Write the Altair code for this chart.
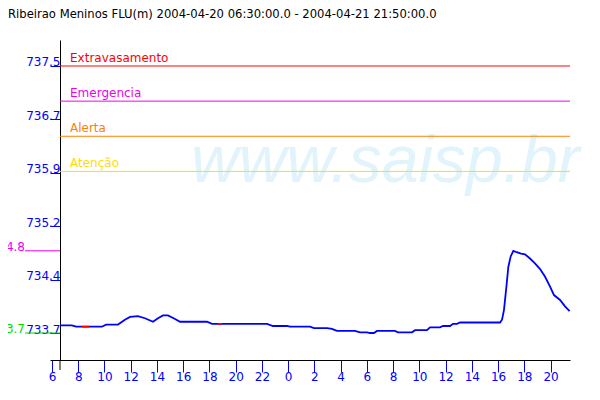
import altair as alt
import pandas as pd

# ---- data ----
hours = [6.61, 7.52, 7.83, 8.74, 9.81, 10.12, 11.03, 11.56, 11.95, 12.55, 13.09, 13.70,
         14.08, 14.46, 14.84, 15.38, 15.76, 17.81, 18.20, 22.39, 22.84, 23.91, 24.14,
         25.66, 25.97, 26.96, 27.34, 27.72, 29.09, 29.48, 30.01, 30.24, 30.54, 30.77,
         32.14, 32.37, 33.44, 33.67, 34.58, 34.81, 35.57, 35.80, 36.34, 36.56, 36.87,
         37.10, 40.15, 40.30, 40.45, 40.66, 40.78, 40.96, 41.16, 41.42, 41.75, 42.05,
         42.43, 42.81, 43.20, 43.58, 43.96, 44.26, 44.72, 45.10, 45.45]
levels = [733.81, 733.81, 733.79, 733.79, 733.79, 733.82, 733.82, 733.89, 733.93, 733.94,
          733.91, 733.86, 733.91, 733.95, 733.95, 733.90, 733.86, 733.86, 733.83, 733.83,
          733.80, 733.80, 733.79, 733.79, 733.77, 733.77, 733.76, 733.73, 733.73, 733.71,
          733.71, 733.70, 733.70, 733.73, 733.73, 733.71, 733.71, 733.74, 733.74, 733.78,
          733.78, 733.80, 733.80, 733.83, 733.83, 733.85, 733.85, 733.89, 734.03, 734.41,
          734.64, 734.79, 734.87, 734.85, 734.83, 734.82, 734.76, 734.69, 734.61, 734.50,
          734.36, 734.24, 734.17, 734.08, 734.01]

red_hours = [8.29, 8.83, 18.65, 18.96]
red_levels = [733.79, 733.79, 733.83, 733.83]
red_seg = [1, 1, 2, 2]

thr_names = ["Extravasamento", "Emergencia", "Alerta", "Atenção"]
thr_values = [737.5, 737.0, 736.5, 736.0]
thr_colors = ["#ff0000", "#ee00ee", "#ff8000", "#ffdd00"]

ref_values = [734.87, 733.7]
ref_labels = ["734.8", "733.7"]
ref_colors = ["#ee00ee", "#00dd00"]

y_ticks = [733.7, 734.46, 735.22, 735.98, 736.74, 737.5]
x_ticks = [6, 8, 10, 12, 14, 16, 18, 20, 22, 24, 26, 28, 30, 32, 34, 36, 38, 40, 42, 44]

title_text = "Ribeirao Meninos FLU(m) 2004-04-20 06:30:00.0 - 2004-04-21 21:50:00.0"
watermark = "www.saisp.br"

# ---- tables ----
df = pd.DataFrame({"h": hours, "v": levels})
dred = pd.DataFrame({"h": red_hours, "v": red_levels, "seg": red_seg})
dthr = pd.DataFrame({"name": thr_names, "v": thr_values, "c": thr_colors})
dref = pd.DataFrame({"lab": ref_labels, "v": ref_values, "c": ref_colors})

W, H = 520, 320
FONT = "DejaVu Sans"
xs = alt.Scale(domain=[5.85, 45.48], nice=False, zero=False)
ys = alt.Scale(domain=[733.316, 737.870], nice=False, zero=False)

base = alt.Chart(df)

# watermark
wm = alt.Chart(pd.DataFrame({"t": [watermark]})).mark_text(
    align="left", baseline="alphabetic", font="Liberation Sans", fontStyle="italic",
    fontSize=66, color="#e1f4fc"
).encode(x=alt.value(141), y=alt.value(142), text="t:N")

# axes carrier (invisible line with axes)
axes = base.mark_line(opacity=0).encode(
    x=alt.X("h:Q", scale=xs, title=None,
            axis=alt.Axis(values=x_ticks, tickCount=100, labelExpr="datum.value % 24",
                          domainColor="black",
                          tickColor="#0000ff", tickSize=12, labelColor="#0000ff",
                          labelFont=FONT, labelFontSize=12, labelBaseline="alphabetic",
                          labelPadding=8, grid=False, labelFlush=False,
                          labelOverlap=False)),
    y=alt.Y("v:Q", scale=ys, title=None,
            axis=alt.Axis(values=y_ticks, tickCount=100, offset=-10,
                          labelExpr="format(floor(datum.value*10+0.001)/10, '.1f')",
                          domainColor="black", tickColor="#0000ff", tickSize=10,
                          labelColor="#0000ff", labelFont=FONT, labelFontSize=12,
                          labelBaseline="alphabetic", labelAlign="right", labelPadding=-10,
                          grid=False, labelFlush=False, labelOverlap=False)),
)

yext = alt.Chart(pd.DataFrame({"a": [0]})).mark_rule(color="black").encode(
    x=alt.value(10), y=alt.value(H), y2=alt.value(H + 10))

thr_rules = alt.Chart(dthr).mark_rule(strokeWidth=1).encode(
    x=alt.value(10), x2=alt.value(W),
    y=alt.Y("v:Q", scale=ys),
    color=alt.Color("c:N", scale=None))
thr_text = alt.Chart(dthr).mark_text(align="left", baseline="alphabetic", dy=-4,
                                     font=FONT, fontSize=12).encode(
    x=alt.value(20), y=alt.Y("v:Q", scale=ys), text="name:N",
    color=alt.Color("c:N", scale=None))

ref_rules = alt.Chart(dref).mark_rule(strokeWidth=1).encode(
    x=alt.value(-25), x2=alt.value(10), y=alt.Y("v:Q", scale=ys),
    color=alt.Color("c:N", scale=None))
ref_text = alt.Chart(dref).mark_text(align="right", baseline="alphabetic",
                                     font=FONT, fontSize=12).encode(
    x=alt.value(-25), y=alt.Y("v:Q", scale=ys), text="lab:N",
    color=alt.Color("c:N", scale=None))

line = base.mark_line(color="#0000ff", strokeWidth=1.8).encode(
    x=alt.X("h:Q", scale=xs), y=alt.Y("v:Q", scale=ys))
red = alt.Chart(dred).mark_line(color="#ff0000", strokeWidth=1.8).encode(
    x=alt.X("h:Q", scale=xs), y=alt.Y("v:Q", scale=ys), detail="seg:N")

title = alt.Chart(pd.DataFrame({"t": [title_text]})).mark_text(
    align="left", baseline="top", font=FONT, fontSize=11.6, color="black"
).encode(x=alt.value(-42), y=alt.value(-31), text="t:N")

chart = alt.layer(wm, axes, yext, thr_rules, thr_text, ref_rules, ref_text, line, red, title
).properties(
    width=W, height=H,
    autosize=alt.AutoSizeParams(type="none"),
    padding={"left": 42, "top": 32, "right": 14, "bottom": 30},
    background="white",
).configure_view(stroke=None)

chart.save("out.html", embed_options={"renderer": "svg", "actions": False})
